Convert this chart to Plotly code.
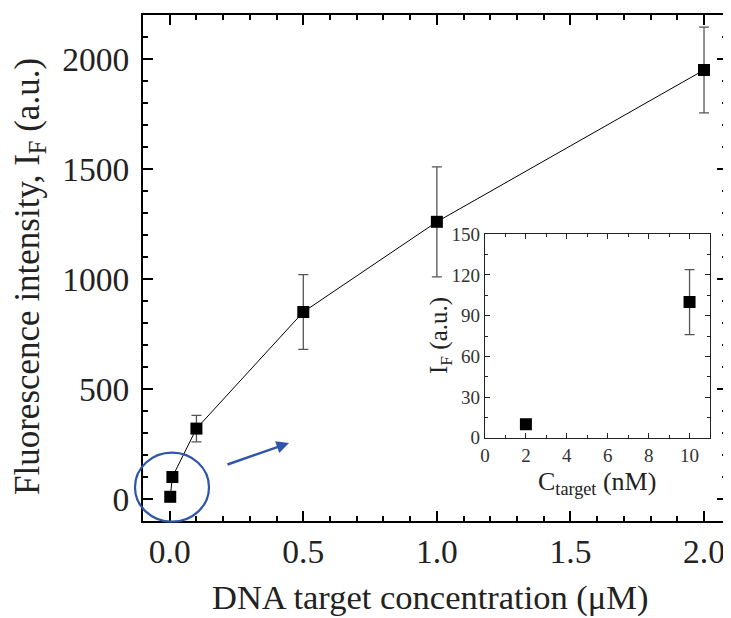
import plotly.graph_objects as go

# main series: DNA target concentration (uM) vs fluorescence intensity (a.u.)
conc_um = [0.002, 0.01, 0.1, 0.5, 1.0, 2.0]
intensity = [10, 100, 320, 850, 1260, 1950]
intensity_err = [0, 24, 60, 170, 250, 195]

# inset: low concentration range (nM)
conc_nm = [2, 10]
intensity_low = [10, 100]
intensity_low_err = [0, 24]

FONT = "Liberation Serif"
OFF = 8  # page body margin
W, H = 731 - OFF, 618 - OFF
ML, MR, MT, MB = 143 - OFF, 4, 15 - OFF, 97
PW, PH = W - ML - MR, H - MT - MB


def px(x):
    # window pixel x -> paper fraction
    return (x - OFF - ML) / PW


def py(y):
    # window pixel y -> paper fraction
    return (H - MB - (y - OFF)) / PH


fig = go.Figure()

fig.add_trace(go.Scatter(
    x=conc_um, y=intensity,
    mode='lines+markers',
    line=dict(color='black', width=1),
    marker=dict(symbol='square', size=12, color='black'),
    error_y=dict(type='data', array=intensity_err, color='#555555', thickness=1.3, width=5),
    xaxis='x', yaxis='y', showlegend=False
))

fig.add_trace(go.Scatter(
    x=conc_nm, y=intensity_low,
    mode='markers',
    marker=dict(symbol='square', size=12, color='black'),
    error_y=dict(type='data', array=intensity_low_err, color='#555555', thickness=1.3, width=5),
    xaxis='x2', yaxis='y2', showlegend=False
))

main_axis = dict(
    showline=True, linecolor='black', linewidth=2, mirror='allticks',
    ticks='inside', ticklen=10, tickwidth=2, tickcolor='black',
    showgrid=False, zeroline=False, automargin=False,
    tickfont=dict(family=FONT, size=33.5, color='#222'),
)

inset_axis = dict(
    showline=True, linecolor='#222', linewidth=1.3, mirror='allticks',
    ticks='inside', ticklen=5, tickwidth=1.3, tickcolor='#222',
    showgrid=False, zeroline=False, automargin=False,
    tickfont=dict(family=FONT, size=19, color='#333'),
)

fig.update_layout(
    width=W, height=H,
    margin=dict(l=ML, r=MR, t=MT, b=MB),
    paper_bgcolor='white', plot_bgcolor='white',
    xaxis=dict(**main_axis, range=[-0.1, 2.086], tick0=0, dtick=0.5, tickformat='.1f',
               minor=dict(ticks='inside', ticklen=5, dtick=0.1, tickwidth=1.5, tickcolor='black'),
               ticklabelstandoff=0),
    yaxis=dict(**main_axis, range=[-100, 2200], tick0=0, dtick=500,
               minor=dict(ticks='inside', ticklen=5, dtick=100, tickwidth=1.5, tickcolor='black'),
               ticklabelstandoff=5),
    xaxis2=dict(**inset_axis, domain=[px(485), px(710)], anchor='y2', range=[0, 11],
                tick0=0, dtick=2,
                minor=dict(ticks='inside', ticklen=3, dtick=1, tickwidth=1, tickcolor='#222')),
    yaxis2=dict(**inset_axis, domain=[py(437.7), py(234.3)], anchor='x2', range=[0, 150],
                tick0=0, dtick=30,
                minor=dict(ticks='inside', ticklen=3, dtick=15, tickwidth=1, tickcolor='#222')),
)

# axis titles
fig.add_annotation(text='Fluorescence intensity, I<sub>F</sub> (a.u.)', textangle=-90,
                   xref='paper', yref='paper', x=px(29), y=py(277), showarrow=False,
                   xanchor='center', yanchor='middle',
                   font=dict(family=FONT, size=35, color='#222'))
fig.add_annotation(text='DNA target concentration (\u03bcM)',
                   xref='paper', yref='paper', x=px(430), y=py(597), showarrow=False,
                   xanchor='center', yanchor='middle',
                   font=dict(family=FONT, size=34.5, color='#222'))
fig.add_annotation(text='I<sub>F</sub> (a.u.)', textangle=-90,
                   xref='paper', yref='paper', x=px(440), y=py(336), showarrow=False,
                   xanchor='center', yanchor='middle',
                   font=dict(family=FONT, size=25, color='#222'))
fig.add_annotation(text='C<sub>target</sub> (nM)',
                   xref='paper', yref='paper', x=px(597), y=py(483), showarrow=False,
                   xanchor='center', yanchor='middle',
                   font=dict(family=FONT, size=26, color='#222'))

# blue ellipse around the low-concentration points and arrow towards the inset
fig.add_shape(type='circle', xref='paper', yref='paper',
              x0=px(135), x1=px(209), y0=py(521.7), y1=py(452.7),
              line=dict(color='#2f55a8', width=2.2))
fig.add_annotation(xref='paper', yref='paper', x=px(289), y=py(443), ax=-63, ay=22,
                   text='', showarrow=True, arrowhead=2, arrowsize=1, arrowwidth=2.5,
                   arrowcolor='#2f55a8')

fig.write_html("out.html")
